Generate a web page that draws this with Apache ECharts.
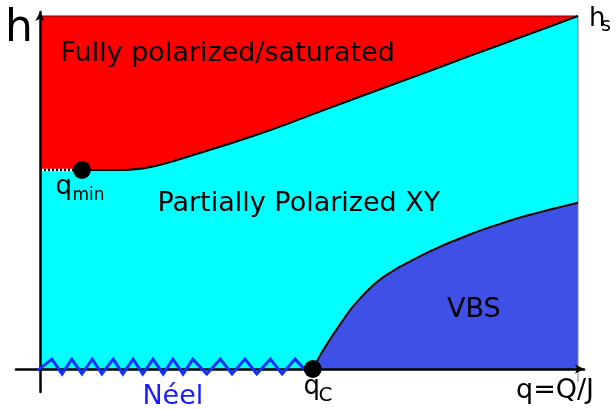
<!DOCTYPE html>
<html>
<head>
<meta charset="utf-8">
<script src="https://cdn.jsdelivr.net/npm/echarts@6/dist/echarts.min.js"></script>
<style>html,body{margin:0;padding:0;background:#fff}#c{width:616px;height:409px}</style>
</head>
<body>
<div id="c"></div>
<script>
// Phase boundaries (q = Q/J normalised to 1 at right edge, h normalised to h_s = 1)
const upperQ = [0, 0.078, 0.158, 0.186, 0.214, 0.242, 0.297, 0.362, 0.428, 0.520, 0.613, 0.706, 0.799, 0.892, 1];
const upperH = [0.564, 0.564, 0.564, 0.567, 0.575, 0.586, 0.612, 0.643, 0.677, 0.729, 0.782, 0.834, 0.887, 0.939, 1];
const lowerQ = [0.507, 0.522, 0.539, 0.554, 0.567, 0.580, 0.595, 0.608, 0.623, 0.636, 0.651, 0.669, 0.688, 0.716, 0.743, 0.771, 0.799, 0.827, 0.855, 0.883, 0.911, 0.941, 0.970, 1];
const lowerH = [0, 0.042, 0.084, 0.118, 0.147, 0.174, 0.200, 0.221, 0.242, 0.258, 0.273, 0.290, 0.305, 0.327, 0.346, 0.364, 0.381, 0.397, 0.411, 0.425, 0.437, 0.449, 0.460, 0.471];
const neelQ = [-0.004, 0.022, 0.041, 0.059, 0.078, 0.097, 0.115, 0.136, 0.154, 0.173, 0.191, 0.210, 0.229, 0.247, 0.266, 0.284, 0.310, 0.335, 0.357, 0.381, 0.403, 0.428, 0.450, 0.474, 0.496];
const neelH = [-0.003, 0.028, -0.014, 0.028, -0.014, 0.028, -0.014, 0.028, -0.014, 0.028, -0.014, 0.028, -0.014, 0.028, -0.014, 0.028, -0.014, 0.028, -0.014, 0.028, -0.014, 0.028, -0.014, 0.028, -0.008];
const qMin = [0.078, 0.564];
const qC = [0.507, 0];
const topQ = [0, 1];
const topH = [1, 1];
const edgeQ = [1, 1];
const edgeH = [-0.037, 1];

const zip = (a, b) => a.map((v, i) => [v, b[i]]);
const upper = zip(upperQ, upperH);
const lower = zip(lowerQ, lowerH);
const iMin = upperQ.indexOf(qMin[0]);

const chart = echarts.init(document.getElementById('c'), null, {renderer: 'canvas'});
const F = 'DejaVu Sans';
const txt = (x, y, text, size, color) => ({
  type: 'text', x: x, y: y, z: 100,
  style: {text: text, font: size + 'px "' + F + '"', fill: color || '#000',
          textAlign: 'left', align: 'left', textVerticalAlign: 'middle', verticalAlign: 'middle'}
});
const SM = 0.3;
const SL = 0.2;

chart.setOption({
  animation: false,
  backgroundColor: '#fff',
  grid: {left: 16, right: 32, top: 12, bottom: 17, containLabel: false},
  xAxis: {
    type: 'value', min: -24 / 538, max: 1 + 6 / 538, z: 3,
    axisLine: {onZero: true, symbol: ['none', 'arrow'], symbolSize: [7, 9], lineStyle: {color: '#000', width: 2.5}},
    axisTick: {show: false}, axisLabel: {show: false}, splitLine: {show: false}
  },
  yAxis: {
    type: 'value', min: -23 / 353, max: 1 + 4 / 353, z: 3,
    axisLine: {onZero: true, symbol: ['none', 'arrow'], symbolSize: [7, 9], lineStyle: {color: '#000', width: 2.5}},
    axisTick: {show: false}, axisLabel: {show: false}, splitLine: {show: false}
  },
  series: [
    {type: 'line', data: zip(topQ, topH), symbol: 'none', lineStyle: {width: 1, color: '#7a0000'},
     areaStyle: {color: '#ff0000', opacity: 1}, z: 1},
    {type: 'line', data: upper, symbol: 'none', smooth: SM, lineStyle: {width: 0},
     areaStyle: {color: '#00ffff', opacity: 1}, z: 1},
    {type: 'line', data: lower, symbol: 'none', smooth: SL, lineStyle: {width: 0},
     areaStyle: {color: '#3e50e6', opacity: 1}, z: 1},
    {type: 'line', data: zip(edgeQ, edgeH), symbol: 'none', lineStyle: {width: 1, color: '#808080'}, z: 2},
    {type: 'line', data: upper.slice(0, iMin + 1), symbol: 'none', lineStyle: {width: 2.5, color: '#fff'}, z: 2},
    {type: 'line', data: upper.slice(0, iMin + 1), symbol: 'none', lineStyle: {width: 2.5, color: '#000', type: [2, 2]}, z: 2},
    {type: 'line', data: upper.slice(iMin), symbol: 'none', smooth: SM, lineStyle: {width: 2, color: '#000'}, z: 2},
    {type: 'line', data: lower, symbol: 'none', smooth: SL, lineStyle: {width: 2, color: '#000'}, z: 2},
    {type: 'line', data: zip(neelQ, neelH), symbol: 'none', lineStyle: {width: 3, color: '#1030ff', join: 'miter'}, z: 4},
    {type: 'scatter', data: [qMin, qC], symbol: 'circle', symbolSize: 18, itemStyle: {color: '#000', opacity: 1}, z: 5}
  ],
  graphic: [
    txt(5, 29.5, 'h', 44),
    txt(589, 19, 'h', 26),
    txt(601, 26, 's', 19),
    txt(60.5, 53.7, 'Fully polarized/saturated', 27),
    txt(157.4, 203.7, 'Partially Polarized XY', 27),
    txt(447, 309.7, 'VBS', 27),
    txt(142.4, 397, 'Néel', 27, '#1a1aff'),
    txt(55.5, 187, 'q', 26),
    txt(72.5, 195.6, 'min', 17),
    txt(303.5, 387, 'q', 26),
    txt(318.5, 396, 'C', 20),
    txt(516, 390.7, 'q=Q/J', 27)
  ]
});
</script>
</body>
</html>
